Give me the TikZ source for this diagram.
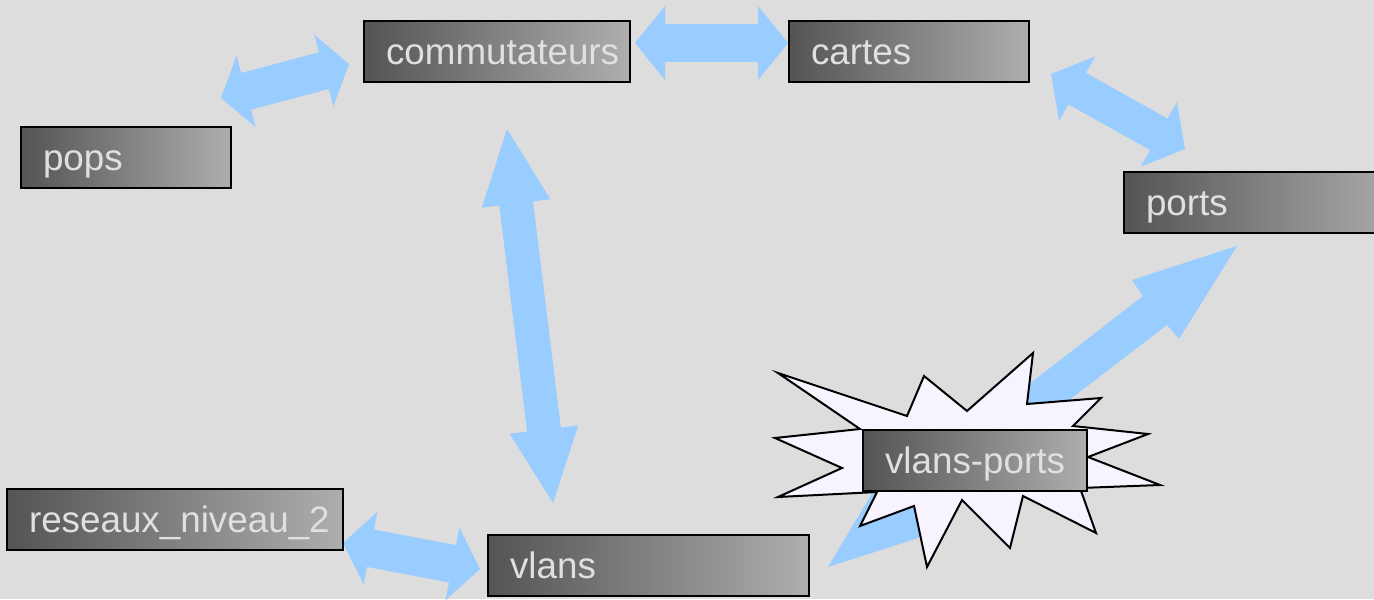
\documentclass[tikz,border=0pt]{standalone}
\usepackage{fontspec}
\setmainfont{Liberation Sans}
\usetikzlibrary{calc}
\definecolor{bg}{HTML}{DDDDDD}
\definecolor{arrowblue}{HTML}{99CCFF}
\definecolor{boxdark}{HTML}{545454}
\definecolor{boxlight}{HTML}{AEAEAE}
\definecolor{boxtext}{HTML}{E0E0E0}
\definecolor{burstfill}{HTML}{F8F4FF}
\newcommand\boxfont{\fontsize{18.4}{22}\selectfont}
% double block arrow: tipA, tipB, half shaft, half head, head length at A, head length at B
\newcommand\dblarrow[6]{%
  \coordinate (da1) at ($(#1)!#5!(#2)$);
  \coordinate (da2) at ($(#2)!#6!(#1)$);
  \fill[arrowblue] (#1) -- ($(da1)!#4!90:(#2)$) -- ($(da1)!#3!90:(#2)$)
    -- ($(da2)!#3!-90:(#1)$) -- ($(da2)!#4!-90:(#1)$) -- (#2)
    -- ($(da2)!#4!90:(#1)$) -- ($(da2)!#3!90:(#1)$)
    -- ($(da1)!#3!-90:(#2)$) -- ($(da1)!#4!-90:(#2)$) -- cycle;
}
\hyphenpenalty=10000
\exhyphenpenalty=10000
\begin{document}
\begin{tikzpicture}[x=0.5pt,y=-0.5pt,
  box/.style={draw=black, line width=1pt, left color=boxdark, right color=boxlight,
    text=boxtext, font=\boxfont,
    minimum height=30.5pt, inner xsep=11pt, inner ysep=0pt, text height=13pt, text depth=0pt,
    align=left, anchor=west},
  burst/.style={draw=black, line width=1pt, fill=burstfill, line join=miter}]
\useasboundingbox (0,0) rectangle (1374,599);
\clip (0,0) rectangle (1374,599);
\fill[bg] (0,0) rectangle (1374,599);

% arrow tips
\coordinate (a1a) at (221,98);   \coordinate (a1b) at (349,64);
\coordinate (a2a) at (635,43);   \coordinate (a2b) at (788,43);
\coordinate (a3a) at (1051,74);  \coordinate (a3b) at (1185,149);
\coordinate (a4a) at (507,129);  \coordinate (a4b) at (553,503);
\coordinate (a5a) at (343,543);  \coordinate (a5b) at (480,569);

% single arrow vlans-ports -> ports
\coordinate (a6tail) at (828,567);
\coordinate (a6tip) at (1237,246);
\fill[arrowblue] (a6tail) -- (873,492) -- (1028,385) -- (1143,296) -- (1132,280) -- (a6tip)
  -- (1179,339) -- (1167,325) -- (1073,397) -- (918,538) -- cycle;

\dblarrow{a1a}{a1b}{9.5pt}{18.5pt}{13pt}{13pt}
\dblarrow{a2a}{a2b}{9.5pt}{18.5pt}{15pt}{15pt}
\dblarrow{a3a}{a3b}{9pt}{18.5pt}{15pt}{15pt}
\dblarrow{a4a}{a4b}{8.5pt}{17.25pt}{37.5pt}{37pt}
\dblarrow{a5a}{a5b}{9.5pt}{18.5pt}{14pt}{14pt}

% starburst
\draw[burst] (778,373) -- (907,416) -- (924,376) -- (967,411) -- (1033,353) -- (1027,404)
  -- (1101,398) -- (1073,426) -- (1148,434) -- (1088,457) -- (1160,485) -- (1080,488)
  -- (1096,533) -- (1023,496) -- (1010,548) -- (962,500) -- (927,567) -- (914,506)
  -- (860,526) -- (877,492) -- (778,497) -- (842,468) -- (775,438) -- (860,429) -- cycle;

% boxes
\node[box, text width=111pt] (comm) at (363,51.5) {commutateurs};
\node[box, text width=98pt] (cartes) at (788,51.5) {cartes};
\node[box, text width=83pt] (pops) at (20,157.5) {pops};
\node[box, text width=118pt] (ports) at (1123,202.5) {ports};
\node[box, text width=146pt] (reseaux) at (6,519.5) {reseaux\_niveau\_2};
\node[box, text width=138.5pt] (vlans) at (487,565.5) {vlans};
\node[box, text width=90pt] (vlansports) at (862,460.5) {vlans-ports};
\end{tikzpicture}
\end{document}
